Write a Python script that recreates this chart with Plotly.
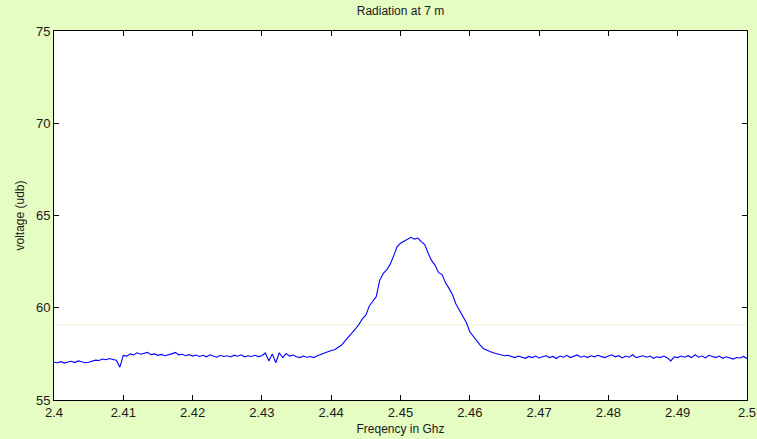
import numpy as np
import plotly.graph_objects as go

freq_start = 2.40
freq_stop = 2.50

voltage = [
    57.05, 57.02, 57.08, 57.00, 57.06, 57.10, 57.03, 57.12, 57.07, 57.02,
    57.05, 57.12, 57.16, 57.14, 57.22, 57.18, 57.25, 57.20, 57.15, 56.78,
    57.42, 57.38, 57.50, 57.44, 57.56, 57.48, 57.52, 57.58, 57.46, 57.50,
    57.42, 57.47, 57.40, 57.44, 57.50, 57.58, 57.45, 57.48, 57.40, 57.46,
    57.38, 57.44, 57.36, 57.42, 57.34, 57.45, 57.38, 57.32, 57.42, 57.36,
    57.40, 57.33, 57.43, 57.37, 57.45, 57.34, 57.40, 57.36, 57.42, 57.35,
    57.40, 57.55, 57.12, 57.50, 57.02, 57.56, 57.30, 57.52, 57.38, 57.44,
    57.34, 57.30, 57.38, 57.32, 57.36, 57.30, 57.40, 57.48, 57.55, 57.60,
    57.68, 57.72, 57.85, 57.98, 58.20, 58.40, 58.62, 58.85, 59.10, 59.40,
    59.60, 60.10, 60.35, 60.60, 61.50, 61.85, 62.05, 62.35, 62.80, 63.30,
    63.50, 63.62, 63.70, 63.82, 63.72, 63.78, 63.58, 63.42, 62.95, 62.55,
    62.30, 61.90, 61.80, 61.35, 61.05, 60.70, 60.20, 59.85, 59.55, 59.20,
    58.70, 58.45, 58.20, 57.98, 57.78, 57.72, 57.62, 57.55, 57.50, 57.45,
    57.40, 57.42, 57.35, 57.30, 57.38, 57.32, 57.26, 57.36, 57.30, 57.38,
    57.28, 57.34, 57.40, 57.30, 57.36, 57.25, 57.38, 57.32, 57.42, 57.30,
    57.36, 57.44, 57.32, 57.38, 57.30, 57.40, 57.34, 57.42, 57.35, 57.30,
    57.38, 57.45, 57.34, 57.40, 57.28, 57.38, 57.32, 57.45, 57.30, 57.36,
    57.40, 57.32, 57.38, 57.26, 57.34, 57.30, 57.38, 57.28, 57.12, 57.34,
    57.30, 57.38, 57.32, 57.40, 57.30, 57.45, 57.32, 57.38, 57.28, 57.42,
    57.34, 57.30, 57.38, 57.26, 57.34, 57.30, 57.22, 57.30, 57.28, 57.36,
    57.25,
]
frequency = np.linspace(freq_start, freq_stop, len(voltage))

x_ticks = [2.40, 2.41, 2.42, 2.43, 2.44, 2.45, 2.46, 2.47, 2.48, 2.49, 2.50]
x_tick_labels = ["2.4", "2.41", "2.42", "2.43", "2.44", "2.45", "2.46", "2.47", "2.48", "2.49", "2.5"]
y_ticks = [55, 60, 65, 70, 75]
faint_level = 59.07

font_family = "Liberation Sans, Arial, sans-serif"
text_color = "#1a1a1a"

fig = go.Figure()
fig.add_trace(go.Scatter(
    x=frequency, y=voltage, mode="lines",
    line=dict(color="#0000ff", width=1.1),
    showlegend=False, hoverinfo="skip",
))

fig.add_shape(type="line", xref="x", yref="y",
              x0=freq_start, x1=freq_stop, y0=faint_level, y1=faint_level,
              line=dict(color="#e6f7cc", width=1), layer="below")

axis_common = dict(
    showline=True, linecolor="black", linewidth=1, mirror="ticks",
    ticks="inside", ticklen=5, tickcolor="black", tickwidth=1,
    showgrid=False, zeroline=False, automargin=False,
    tickfont=dict(family=font_family, size=13, color=text_color),
)

fig.update_xaxes(
    range=[freq_start, freq_stop], tickvals=x_ticks, ticktext=x_tick_labels,
    title=dict(text="Freqency in Ghz", standoff=6,
               font=dict(family=font_family, size=12, color=text_color)),
    **axis_common,
)
fig.update_yaxes(
    range=[55, 75], tickvals=y_ticks,
    title=dict(text="voltage (udb)", standoff=8,
               font=dict(family=font_family, size=12, color=text_color)),
    **axis_common,
)

fig.update_layout(
    width=757, height=439,
    margin=dict(l=54, r=10, t=31, b=39),
    paper_bgcolor="#e5fcc2", plot_bgcolor="white",
    title=dict(text="Radiation at 7 m", x=0.529, xanchor="center",
               y=1 - 11 / 439, yanchor="middle", yref="container",
               font=dict(family=font_family, size=12, color=text_color)),
)

fig.write_html("out.html")
